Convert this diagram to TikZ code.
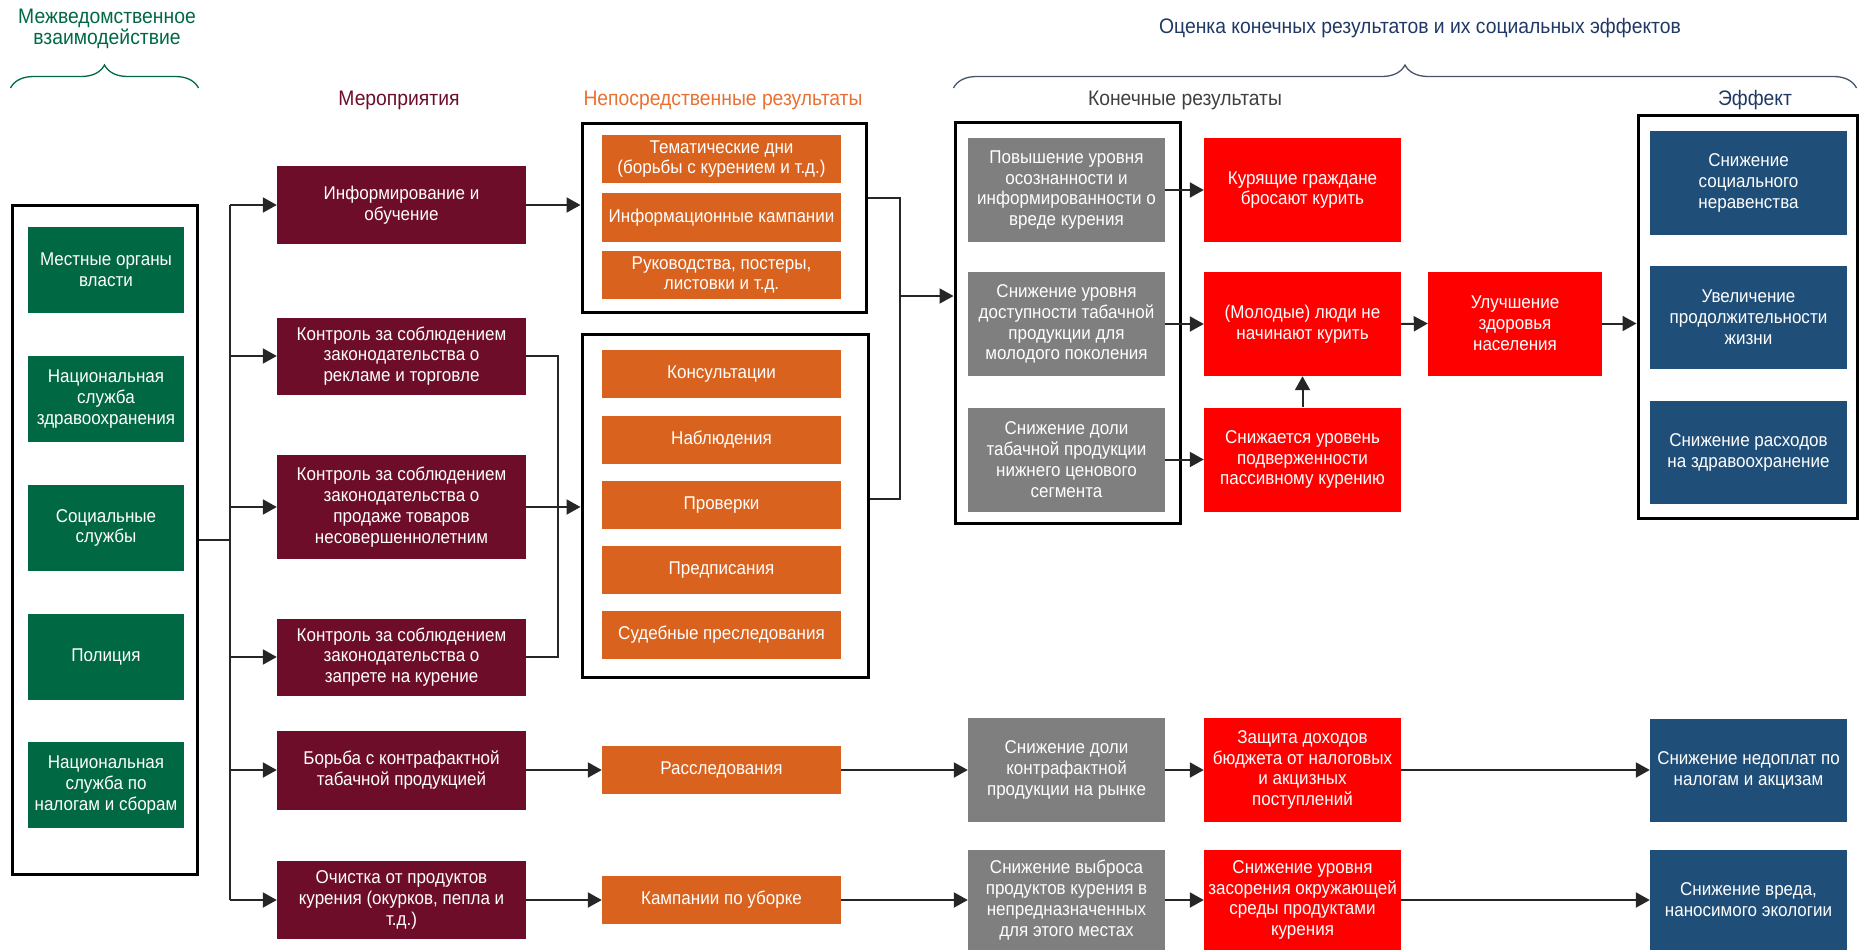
\documentclass[tikz,border=0pt]{standalone}
\usepackage{fontspec}
\setmainfont{Liberation Sans}[FakeStretch=0.92]
\usepackage{tikz}
\usetikzlibrary{arrows.meta}
\usetikzlibrary{decorations}
\usetikzlibrary{decorations.pathreplacing}
\usetikzlibrary{shapes,fit,calc}

\definecolor{agencygreen}{RGB}{0,104,66}
\definecolor{measurered}{RGB}{109,13,41}
\definecolor{directorange}{RGB}{217,99,30}
\definecolor{directhead}{RGB}{232,112,50}
\definecolor{finalgray}{RGB}{127,127,127}
\definecolor{finalhead}{RGB}{64,64,64}
\definecolor{outcomered}{RGB}{255,0,0}
\definecolor{effectblue}{RGB}{31,78,121}
\definecolor{evalblue}{RGB}{31,56,100}
\definecolor{bracegray}{RGB}{68,84,106}

\begin{document}
\begin{tikzpicture}[x=1pt,y=-1pt]
    \tikzstyle{edge}  = [line width=2pt,draw=black!85]
    \tikzstyle{dedge} = [edge,->,>={Triangle[length=14pt,width=15pt]}]
    \tikzstyle{head}=[
      align=center,
      font=\fontsize{21}{21.5}\selectfont,
    ]
    \tikzstyle{item}=[
      rectangle,
      align=center,
      text=white,
      inner sep=2pt,
      minimum width=197pt,
      font=\fontsize{18.5}{20.8}\selectfont,
    ]
    \tikzstyle{agency}=[item, fill=agencygreen, minimum width=156pt, minimum height=86pt]
    \tikzstyle{measure}=[item, fill=measurered, minimum width=249pt]
    \tikzstyle{direct}=[item, fill=directorange, minimum width=239pt, minimum height=48pt]
    \tikzstyle{final}=[item, fill=finalgray, minimum height=104pt]
    \tikzstyle{outcome}=[item, fill=outcomered, minimum height=104pt]
    \tikzstyle{effect}=[item, fill=effectblue, minimum height=103pt]
    \tikzstyle{group}=[rectangle, draw=black, line width=3pt]
    \tikzstyle{brace}=[line width=1.3pt, decorate, decoration={brace, amplitude=23pt}]

    \useasboundingbox (0,0) rectangle (1859,952);

    % headers
    {
      \node[head, text=agencygreen] (hAgency) at (107,29) {Межведомственное\\взаимодействие};
      \node[head, text=measurered] (hMeasure) at (399,100) {Мероприятия};
      \node[head, text=directhead] (hDirect) at (723,100) {Непосредственные результаты};
      \node[head, text=finalhead] (hFinal) at (1185,100) {Конечные результаты};
      \node[head, text=evalblue] (hEffect) at (1755,100) {Эффект};
      \node[head, text=evalblue] (hEval) at (1420,28) {Оценка конечных результатов и их социальных эффектов};
    }

    % group frames
    {
      \node[group, minimum width=185pt, minimum height=669pt] (agencies) at (104.5,539.5) {};
      \node[group, minimum width=284pt, minimum height=188pt] (direct1) at (724,218) {};
      \node[group, minimum width=286pt, minimum height=343pt] (direct2) at (725,505.5) {};
      \node[group, minimum width=225pt, minimum height=400pt] (finals) at (1067.5,323) {};
      \node[group, minimum width=219pt, minimum height=402pt] (effects) at (1747.5,317) {};
    }

    % interagency
    {
      \node[agency] (agency1) at (106,270) {Местные органы\\власти};
      \node[agency] (agency2) at (106,399) {Национальная\\служба\\здравоохранения};
      \node[agency] (agency3) at (106,528) {Социальные\\службы};
      \node[agency] (agency4) at (106,657) {Полиция};
      \node[agency] (agency5) at (106,785) {Национальная\\служба по\\налогам и сборам};
    }

    % measures
    {
      \node[measure, minimum height=77pt] (measure1) at (401.5,205) {Информирование и\\обучение};
      \node[measure, minimum height=77pt] (measure2) at (401.5,356) {Контроль за соблюдением\\законодательства о\\рекламе и торговле};
      \node[measure, minimum height=104pt] (measure3) at (401.5,507) {Контроль за соблюдением\\законодательства о\\продаже товаров\\несовершеннолетним};
      \node[measure, minimum height=77pt] (measure4) at (401.5,657) {Контроль за соблюдением\\законодательства о\\запрете на курение};
      \node[measure, minimum height=79pt] (measure5) at (401.5,770) {Борьба с контрафактной\\табачной продукцией};
      \node[measure, minimum height=78pt] (measure6) at (401.5,900) {Очистка от продуктов\\курения (окурков, пепла и\\т.д.)};
    }

    % direct results
    {
      \node[direct] (days) at (721.5,159) {Тематические дни\\(борьбы с курением и т.д.)};
      \node[direct] (campaigns) at (721.5,217.5) {Информационные кампании};
      \node[direct] (posters) at (721.5,275) {Руководства, постеры,\\листовки и т.д.};

      \node[direct] (consult) at (721.5,374) {Консультации};
      \node[direct] (observe) at (721.5,440) {Наблюдения};
      \node[direct] (inspect) at (721.5,505) {Проверки};
      \node[direct] (orders) at (721.5,570) {Предписания};
      \node[direct] (courts) at (721.5,634.5) {Судебные преследования};

      \node[direct] (invest) at (721.5,770) {Расследования};
      \node[direct] (cleanup) at (721.5,900) {Кампании по уборке};
    }

    % final results
    {
      \node[final] (final1) at (1066.5,190) {Повышение уровня\\осознанности и\\информированности о\\вреде курения};
      \node[final] (final2) at (1066.5,324) {Снижение уровня\\доступности табачной\\продукции для\\молодого поколения};
      \node[final] (final3) at (1066.5,459.5) {Снижение доли\\табачной продукции\\нижнего ценового\\сегмента};
      \node[final] (final4) at (1066.5,770) {Снижение доли\\контрафактной\\продукции на рынке};
      \node[final, minimum height=100pt] (final5) at (1066.5,900) {Снижение выброса\\продуктов курения в\\непредназначенных\\для этого местах};

      \node[outcome] (outcome1) at (1302.5,190) {Курящие граждане\\бросают курить};
      \node[outcome] (outcome2) at (1302.5,324) {(Молодые) люди не\\начинают курить};
      \node[outcome] (outcome3) at (1302.5,459.5) {Снижается уровень\\подверженности\\пассивному курению};
      \node[outcome] (outcome4) at (1302.5,770) {Защита доходов\\бюджета от налоговых\\и акцизных\\поступлений};
      \node[outcome, minimum height=100pt] (outcome5) at (1302.5,900) {Снижение уровня\\засорения окружающей\\среды продуктами\\курения};
      \node[outcome, minimum width=174pt] (health) at (1515,323.5) {Улучшение\\здоровья\\населения};
    }

    % effects
    {
      \node[effect] (effect1) at (1748.5,183) {Снижение\\социального\\неравенства};
      \node[effect] (effect2) at (1748.5,317.5) {Увеличение\\продолжительности\\жизни};
      \node[effect] (effect3) at (1748.5,452.5) {Снижение расходов\\на здравоохранение};
      \node[effect] (effect4) at (1748.5,770) {Снижение недоплат по\\налогам и акцизам};
      \node[effect, minimum height=100pt] (effect5) at (1748.5,900) {Снижение вреда,\\наносимого экологии};
    }

    % braces
    {
      \draw[brace, draw=agencygreen] (agencies.west |- 0,88) -- (agencies.east |- 0,88);
      \draw[brace, draw=bracegray] (finals.west |- 0,88) -- ([xshift=-2pt]effects.east |- 0,88);
    }

    % interagency to measures
    {
      \coordinate (split) at (230,539.5);
      \draw[edge] (agencies.east) -- (split);
      \draw[edge] (split |- measure1.west) -- (split |- measure6.west);
      \draw[dedge] (split |- measure1.west) -- (measure1.west);
      \draw[dedge] (split |- measure2.west) -- (measure2.west);
      \draw[dedge] (split |- measure3.west) -- (measure3.west);
      \draw[dedge] (split |- measure4.west) -- (measure4.west);
      \draw[dedge] (split |- measure5.west) -- (measure5.west);
      \draw[dedge] (split |- measure6.west) -- (measure6.west);
    }

    % measures to direct results
    {
      \coordinate (control) at (558,507);
      \draw[edge] (measure2.east) -| (control |- measure4.east) -- (measure4.east);
      \draw[dedge] (measure1.east) -- (measure1.east -| direct1.west);
      \draw[dedge] (measure3.east) -- (measure3.east -| direct2.west);
      \draw[dedge] (measure5.east) -- (invest.west);
      \draw[dedge] (measure6.east) -- (cleanup.west);
    }

    % direct results to final results
    {
      \coordinate (mergeTop) at (900,198);
      \coordinate (mergeBot) at (900,499);
      \coordinate (merge) at (900,296);
      \draw[edge] (direct1.east |- mergeTop) -- (mergeTop) -- (mergeBot) -- (direct2.east |- mergeBot);
      \draw[dedge] (merge) -- (merge -| finals.west);
      \draw[dedge] (invest.east) -- (final4.west);
      \draw[dedge] (cleanup.east) -- (final5.west);
    }

    % final results to effects
    {
      \draw[dedge] (final1.east) -- (outcome1.west);
      \draw[dedge] (final2.east) -- (outcome2.west);
      \draw[dedge] (final3.east) -- (outcome3.west);
      \draw[dedge] (final4.east) -- (outcome4.west);
      \draw[dedge] (final5.east) -- (outcome5.west);
      \draw[dedge] (outcome3.north) -- (outcome2.south);
      \draw[dedge] (outcome2.east) -- (health.west);
      \draw[dedge] (health.east) -- (health.east -| effects.west);
      \draw[dedge] (outcome4.east) -- (effect4.west);
      \draw[dedge] (outcome5.east) -- (effect5.west);
    }
  \end{tikzpicture}
\end{document}
